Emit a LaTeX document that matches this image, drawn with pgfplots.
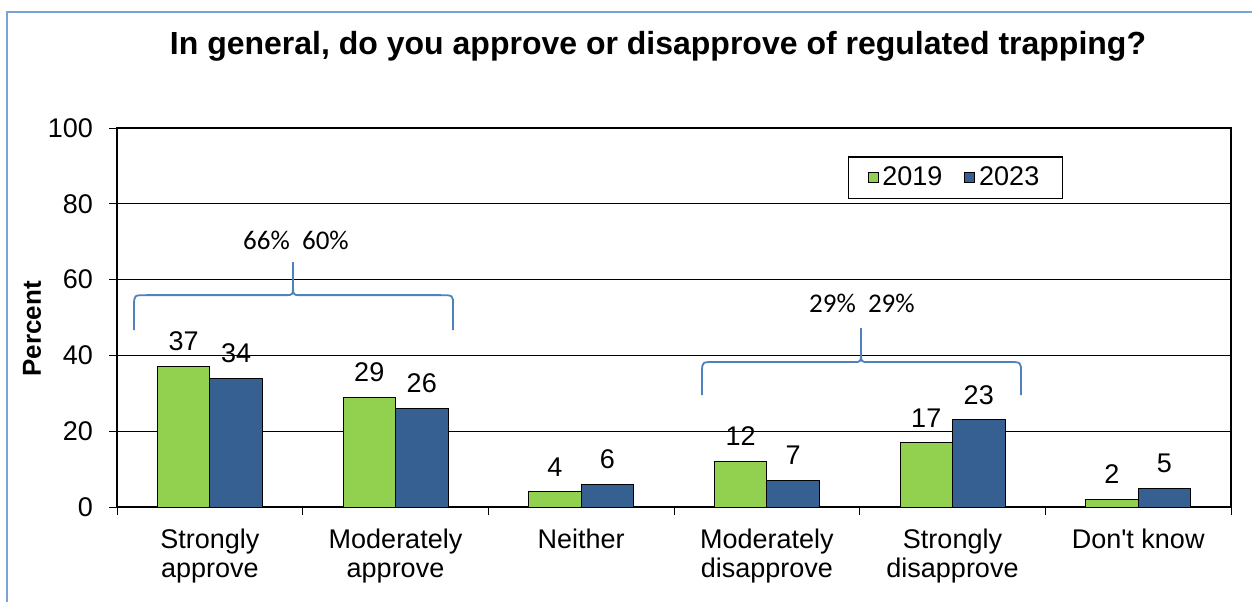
\documentclass[border=0pt]{standalone}
\usepackage{pgfplots}
\pgfplotsset{compat=1.18}
\usepackage{fontspec}
\setmainfont{Liberation Sans}
\newfontfamily\calibri{Carlito}
\definecolor{cgreen}{HTML}{92D050}
\definecolor{cblue}{HTML}{376092}
\definecolor{cframe}{HTML}{7BA3D6}
\definecolor{cbrace}{HTML}{4F81BD}
\begin{document}
\begin{tikzpicture}[x=1pt,y=1pt]
\useasboundingbox (0,0) rectangle (626,301);
\draw[cframe, line width=1pt] (3.5,0) -- (3.5,295) -- (626,295);
\node[font=\fontsize{16}{19}\selectfont\bfseries] at (329,278) {In general, do you approve or disapprove of regulated trapping?};
\node[font=\fontsize{13}{15}\selectfont\bfseries, rotate=90] at (16,136.5) {Percent};
\begin{axis}[
  at={(58.5pt,47.5pt)}, anchor=south west,
  scale only axis, width=557pt, height=189.5pt,
  ybar=0pt, bar width=26.25pt,
  xmin=-0.5, xmax=5.5, ymin=0, ymax=100,
  ytick={0,20,40,60,80,100},
  xtick={0,1,2,3,4,5},
  xticklabels={{Strongly\\approve},{Moderately\\approve},{Neither},{Moderately\\disapprove},{Strongly\\disapprove},{Don\textquotesingle t know}},
  minor xtick={-0.5,0.5,1.5,2.5,3.5,4.5,5.5},
  xtick pos=bottom, ytick pos=left,
  tick align=outside,
  major tick length=4pt, minor tick length=4pt,
  x tick style={draw=none}, minor x tick style={draw=black, line width=0.5pt},
  y tick style={draw=black, line width=0.5pt},
  ymajorgrids, grid style={black, line width=0.5pt},
  axis line style={black, line width=1pt},
  /pgf/number format/assume math mode=true,
  tick label style={font=\fontsize{13.5}{14.5}\selectfont},
  xticklabel style={align=center, yshift=-3.5pt},
  yticklabel style={xshift=-4.5pt},
  nodes near coords,
  every node near coord/.append style={font=\fontsize{13.5}{15}\selectfont, yshift=4.2pt, black},
  legend columns=2,
  legend style={at={(0.656,0.926)}, anchor=north west, draw=black, line width=0.75pt,
    font=\fontsize{13.5}{15}\selectfont, inner xsep=9.5pt, inner ysep=3pt,
    /tikz/every even column/.append style={column sep=9pt},
    nodes={inner xsep=2pt}},
  legend image code/.code={\draw[#1, draw=black, line width=0.4pt] (0pt,-2.5pt) rectangle (5pt,2.5pt);},
]
\addplot[fill=cgreen, draw=black, line width=0.5pt] coordinates {(0,37) (1,29) (2,4) (3,12) (4,17) (5,2)};
\addplot[fill=cblue, draw=black, line width=0.5pt] coordinates {(0,34) (1,26) (2,6) (3,7) (4,23) (5,5)};
\legend{2019,2023}
% braces
\draw[cbrace, line width=0.9pt] (axis cs:-0.408,46.7) -- (axis cs:-0.408,53.3) .. controls (axis cs:-0.408,55.9) .. (axis cs:-0.34,55.9) -- (axis cs:0.41,55.9) .. controls (axis cs:0.448,55.9) .. (axis cs:0.448,59) -- (axis cs:0.448,64.6);
\draw[cbrace, line width=0.9pt] (axis cs:0.448,59) .. controls (axis cs:0.448,55.9) .. (axis cs:0.486,55.9) -- (axis cs:1.242,55.9) .. controls (axis cs:1.310,55.9) .. (axis cs:1.310,53.3) -- (axis cs:1.310,46.7);
\draw[cbrace, line width=0.9pt] (axis cs:2.651,29.55) -- (axis cs:2.651,35.6) .. controls (axis cs:2.651,38.26) .. (axis cs:2.72,38.26) -- (axis cs:3.47,38.26) .. controls (axis cs:3.507,38.26) .. (axis cs:3.507,40.9) -- (axis cs:3.507,47.23);
\draw[cbrace, line width=0.9pt] (axis cs:3.507,40.9) .. controls (axis cs:3.507,38.26) .. (axis cs:3.545,38.26) -- (axis cs:4.30,38.26) .. controls (axis cs:4.369,38.26) .. (axis cs:4.369,35.6) -- (axis cs:4.369,29.55);
\node[font=\calibri\fontsize{13.5}{16}\selectfont] at (axis cs:0.464,70.4) {66\%\ \ 60\%};
\node[font=\calibri\fontsize{13.5}{16}\selectfont] at (axis cs:3.512,53.6) {29\%\ \ 29\%};
\end{axis}
\end{tikzpicture}
\end{document}
